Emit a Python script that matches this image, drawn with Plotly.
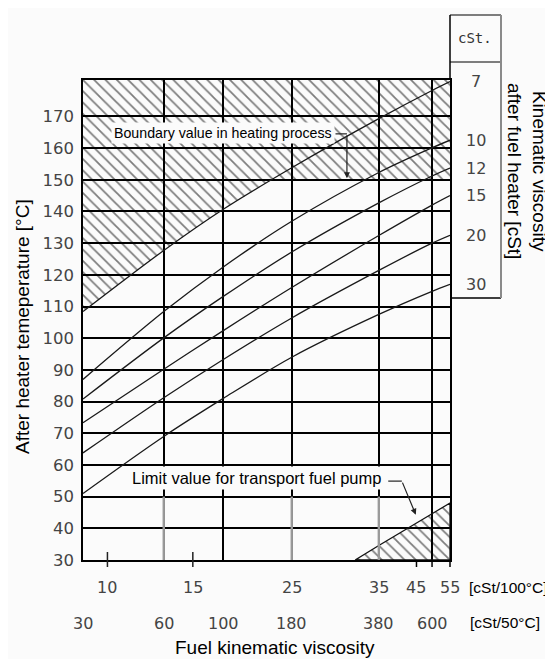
import numpy as np
import plotly.graph_objects as go

# ---------------- data ----------------
# x axis: fuel kinematic viscosity [cSt/50°C] (log scale)
x_min, x_max = 30, 700
visc50_ticks = [30, 60, 100, 180, 380, 600]
visc50_grid = [60, 100, 180, 380, 600]
visc50_gray_below_50 = [60, 180, 380]
# same fuels expressed in cSt/100°C and their cSt/50°C equivalents
visc100_labels = ["10", "15", "25", "35", "45", "55"]
visc100_at50 = [37, 77, 180, 380, 525, 700]
visc100_tickmarks = [37, 77]

# y axis: after heater temperature [°C]
y_min, y_max = 30, 181.5
temp_ticks = list(range(30, 180, 10))

# lines of constant kinematic viscosity after the fuel heater
line_x = [30, 60, 100, 180, 380, 600, 700]
heater_cst = ["7", "10", "12", "15", "20", "30"]
t_7 = [108.4, 127.7, 140.7, 153.8, 169.3, 178.2, 181.0]
t_10 = [87.0, 108.4, 122.5, 136.9, 152.3, 160.1, 162.5]
t_12 = [80.8, 100.1, 113.2, 127.2, 142.7, 151.2, 153.7]
t_15 = [73.3, 90.2, 102.4, 116.0, 132.4, 142.0, 145.0]
t_20 = [63.8, 81.2, 93.3, 106.4, 121.4, 130.0, 132.5]
t_30 = [51.0, 69.0, 81.0, 94.0, 107.5, 114.8, 117.0]
heater_lines = [t_7, t_10, t_12, t_15, t_20, t_30]

heating_limit = 150  # boundary value in heating process [°C]
pump_x = [310, 380, 600, 700]  # limit for transport fuel pump
pump_t = [30, 34.6, 44.6, 48]

# ---------------- helpers ----------------
BG = "#fbfbfb"
TXT = "Liberation Sans, Arial, sans-serif"
NUM = "DejaVu Sans, sans-serif"
PLOT_W, PLOT_H = 367.0, 480.0
L0, T0 = 83, 80  # pixel position of the plot area in the window
lx0, lx1 = np.log10(x_min), np.log10(x_max)


def paper_x(v):
    return (np.log10(v) - lx0) / (lx1 - lx0)


def px2paper_x(px):
    return (px - L0) / PLOT_W


def px2paper_y(py):
    return (T0 + PLOT_H - py) / PLOT_H


fig = go.Figure()

# hatched region: above the 7 cSt line / above the heating limit
lx = np.log10(line_x)
i = int(np.searchsorted(t_7, heating_limit))
f = (heating_limit - t_7[i - 1]) / (t_7[i] - t_7[i - 1])
xc = 10 ** (lx[i - 1] + f * (lx[i] - lx[i - 1]))
poly_x = list(line_x[:i]) + [xc, x_max, x_max, x_min, x_min]
poly_y = list(t_7[:i]) + [heating_limit, heating_limit, y_max + 5, y_max + 5, t_7[0]]
hatch = dict(shape="\\", fgcolor="black", bgcolor="rgba(0,0,0,0)", size=8, solidity=0.22)
fig.add_trace(go.Scatter(x=poly_x, y=poly_y, mode="lines", fill="toself",
                         fillcolor="rgba(0,0,0,0)", fillpattern=hatch,
                         line=dict(color="rgba(0,0,0,0)", width=0), hoverinfo="skip"))

# hatched region: transport fuel pump limit
fig.add_trace(go.Scatter(x=pump_x + [x_max, pump_x[0]], y=pump_t + [y_min, y_min],
                         mode="lines", fill="toself", fillcolor="rgba(0,0,0,0)",
                         fillpattern=hatch, line=dict(color="#111", width=1.3),
                         hoverinfo="skip"))

# viscosity lines
for name, ys in zip(heater_cst, heater_lines):
    fig.add_trace(go.Scatter(x=line_x, y=ys, mode="lines", name=name + " cSt",
                             line=dict(color="#1a1a1a", width=1.3, shape="spline",
                                       smoothing=0.9)))

shapes = []
# gray lower parts of some vertical grid lines
for v in visc50_gray_below_50:
    shapes.append(dict(type="line", xref="x", yref="y", x0=v, x1=v, y0=y_min, y1=50,
                       line=dict(color="#9a9a9a", width=2.4)))
# tick marks for cSt/100°C scale
for v in visc100_tickmarks:
    px = paper_x(v)
    shapes.append(dict(type="line", xref="paper", yref="paper", x0=px, x1=px,
                       y0=-7 / PLOT_H, y1=8 / PLOT_H, line=dict(color="#222", width=1.5)))
for v in [visc100_at50[4], 600, x_max]:
    px = paper_x(v)
    shapes.append(dict(type="line", xref="paper", yref="paper", x0=px, x1=px,
                       y0=-7 / PLOT_H, y1=0, line=dict(color="black", width=1.5)))

# cSt box on the right
bx1 = px2paper_x(501)
by_top = px2paper_y(15)
by_head = px2paper_y(62)
by_bot = px2paper_y(298)
for s in [
    dict(x0=1, x1=1, y0=1, y1=by_top, color="black", w=1.5),
    dict(x0=1, x1=bx1, y0=by_top, y1=by_top, color="black", w=1.2),
    dict(x0=1, x1=bx1, y0=by_head, y1=by_head, color="black", w=1.2),
    dict(x0=1, x1=bx1, y0=by_bot, y1=by_bot, color="black", w=1.5),
    dict(x0=bx1, x1=bx1, y0=by_bot, y1=by_top, color="#8a8a8a", w=2),
]:
    shapes.append(dict(type="line", xref="paper", yref="paper", x0=s["x0"], x1=s["x1"],
                       y0=s["y0"], y1=s["y1"], line=dict(color=s["color"], width=s["w"])))

# leader lines for the annotations
shapes.append(dict(type="line", xref="x", yref="y", x0=262, x1=289, y0=164.5, y1=164.5,
                   line=dict(color="#222", width=1.2)))
shapes.append(dict(type="line", xref="x", yref="y", x0=412, x1=463, y0=54.9, y1=54.9,
                   line=dict(color="#222", width=1.2)))

C = dict(xanchor="center", yanchor="middle", showarrow=False)
ann = []
# cSt/100°C labels (row 1) and cSt/50°C labels (row 2)
for lab, v in zip(visc100_labels, visc100_at50):
    ann.append(dict(x=np.log10(v), xref="x", y=px2paper_y(587), yref="paper", text=lab,
                    font=dict(family=NUM, size=16, color="#444"), **C))
for v in visc50_ticks:
    ann.append(dict(x=np.log10(v), xref="x", y=px2paper_y(623), yref="paper", text=str(v),
                    font=dict(family=NUM, size=16, color="#444"), **C))
ann.append(dict(x=px2paper_x(467), xref="paper", y=px2paper_y(587), yref="paper",
                text="[cSt/100°C]", xanchor="left", yanchor="middle", showarrow=False,
                font=dict(family=TXT, size=15.5, color="black")))
ann.append(dict(x=px2paper_x(468), xref="paper", y=px2paper_y(622), yref="paper",
                text="[cSt/50°C]", xanchor="left", yanchor="middle", showarrow=False,
                font=dict(family=TXT, size=15.5, color="black")))
ann.append(dict(x=px2paper_x(275), xref="paper", y=px2paper_y(647), yref="paper",
                text="Fuel kinematic viscosity",
                font=dict(family=TXT, size=19, color="black"), **C))
ann.append(dict(x=px2paper_x(22), xref="paper", y=px2paper_y(327), yref="paper",
                text="After heater temeperature [°C]", textangle=-90,
                font=dict(family=TXT, size=19, color="black"), **C))
ann.append(dict(x=px2paper_x(527), xref="paper", y=px2paper_y(171), yref="paper",
                text="Kinematic viscosity<br>after fuel heater [cSt]", textangle=90,
                font=dict(family=TXT, size=19, color="black"), **C))
ann.append(dict(x=px2paper_x(475), xref="paper", y=px2paper_y(38), yref="paper",
                text="cSt.", font=dict(family="DejaVu Sans Mono, monospace", size=14,
                                       color="#333"), **C))
for lab, ys in zip(heater_cst, heater_lines):
    ann.append(dict(x=px2paper_x(476), xref="paper", y=ys[-1], yref="y", text=lab,
                    font=dict(family=NUM, size=16, color="#444"), **C))

# boundary annotation
ann.append(dict(x=np.log10(100), xref="x", y=164.8, yref="y",
                text="Boundary value in heating process", bgcolor=BG, borderpad=2,
                font=dict(family=TXT, size=14.2, color="black"), **C))
ann.append(dict(x=np.log10(289), y=heating_limit + 0.5, xref="x", yref="y",
                ax=np.log10(289), ay=164.5, axref="x", ayref="y", text="",
                showarrow=True, arrowhead=2, arrowsize=1, arrowwidth=1.2, arrowcolor="#222"))
# pump limit annotation
ann.append(dict(x=np.log10(133), xref="x", y=55.9, yref="y",
                text="Limit value for transport fuel pump", bgcolor=BG, borderpad=2,
                font=dict(family=TXT, size=16.5, color="black"), **C))
ann.append(dict(x=np.log10(522), y=44.3, xref="x", yref="y",
                ax=np.log10(463), ay=54.9, axref="x", ayref="y", text="",
                showarrow=True, arrowhead=2, arrowsize=1, arrowwidth=1.2, arrowcolor="#222"))

# the page body adds an 8 px offset; the figure is sized so it fits the window exactly
OFF = 8
fig.update_layout(
    width=553 - OFF, height=659 - OFF,
    margin=dict(l=L0 - OFF, r=553 - L0 - int(PLOT_W), t=T0 - OFF, b=659 - T0 - int(PLOT_H)),
    paper_bgcolor=BG, plot_bgcolor=BG,
    showlegend=False,
    shapes=shapes,
    annotations=ann,
    xaxis=dict(type="log", range=[lx0, lx1], tickvals=visc50_grid, showticklabels=False,
               ticks="", showgrid=True, gridcolor="black", gridwidth=1.6,
               showline=True, linecolor="black", linewidth=1.6, mirror=True, zeroline=False),
    yaxis=dict(range=[y_min, y_max], tickvals=temp_ticks, ticks="", showgrid=True,
               gridcolor="black", gridwidth=1.6, showline=True, linecolor="black",
               linewidth=1.6, mirror=True, zeroline=False, ticklabelstandoff=4,
               tickfont=dict(family=NUM, size=16.5, color="#444")),
)

fig.write_html("out.html")
